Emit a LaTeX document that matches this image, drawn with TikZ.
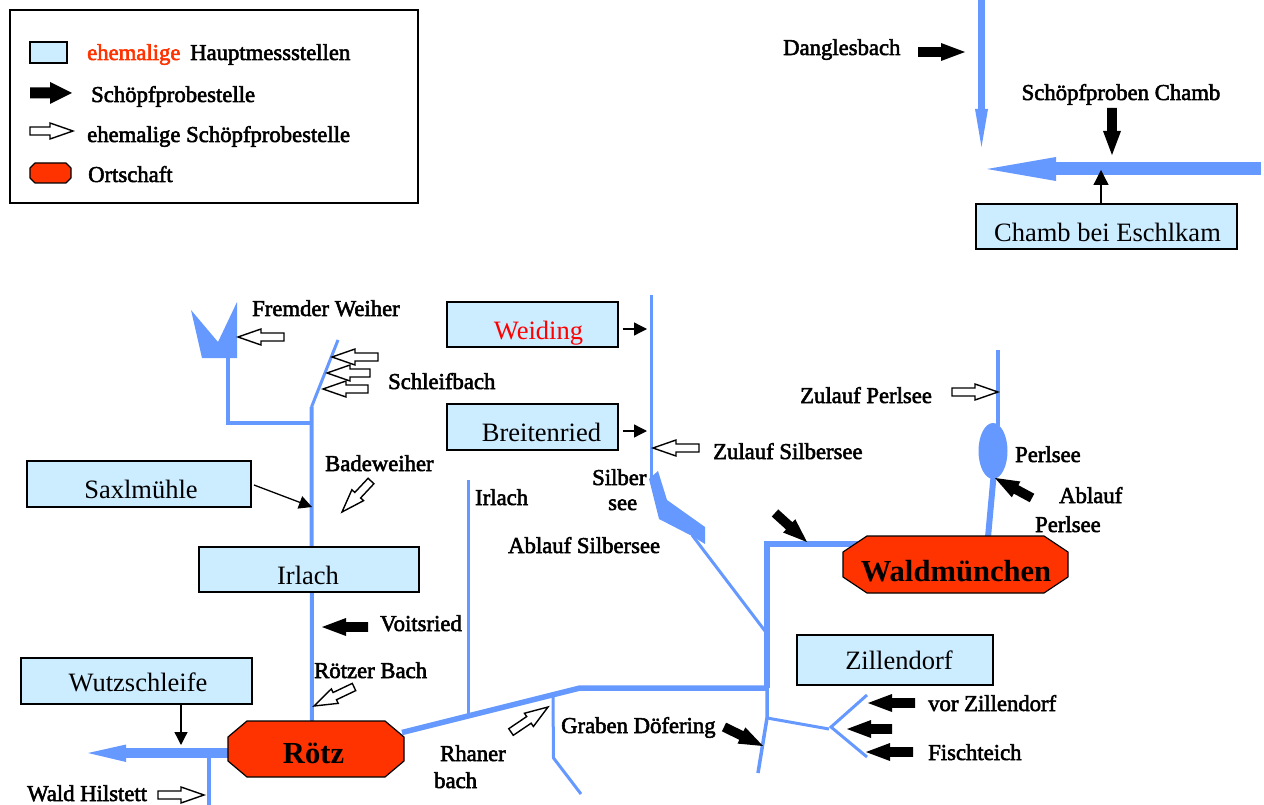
\documentclass[tikz,border=0pt]{standalone}
\usepackage{fontspec}
\setmainfont{Liberation Serif}
\usetikzlibrary{calc,arrows.meta}
\definecolor{river}{HTML}{6699FF}
\definecolor{boxblue}{HTML}{CCECFF}
\definecolor{townred}{HTML}{FF3300}
\tikzset{
  stream/.style={draw=river,line width=#1,line join=miter},
  stream/.default=3.5,
  lake/.style={fill=river,draw=none},
  lbl/.style={anchor=base west,inner sep=0pt,font=\fontsize{22.7}{24}\selectfont,
    execute at begin node={\special{pdf:code 2 Tr 0.55 w}},
    execute at end node={\special{pdf:code 0 Tr}}},
  gauge/.style={draw=black,line width=1.1pt,fill=boxblue,inner sep=0pt,font=\fontsize{26.5}{28}\selectfont},
  townfill/.style={draw=black,line width=1.2pt,fill=townred,line join=round},
  townname/.style={anchor=base,inner sep=0pt,font=\bfseries\fontsize{30.6}{32}\selectfont},
  solidarrow/.style={fill=black,draw=none},
  oldarrow/.style={fill=white,draw=black,line width=1.4pt,line join=miter},
  thinarrow/.style={draw=black,line width=1.3pt,-{Triangle[length=#1,width=#1]}},
  thinarrow/.default=13pt,
}
% block arrow from named tail to named tip: style, name, tail, tip, shaft/2, head/2, head length
\newcommand\blockarrow[7]{%
  \coordinate (#2t) at (#3);
  \coordinate (#2p) at (#4);
  \coordinate (#2b) at ($(#2p)!#7pt!(#2t)$);
  \path[#1] ($(#2t)!#5pt!90:(#2p)$) -- ($(#2b)!#5pt!90:(#2p)$) -- ($(#2b)!#6pt!90:(#2p)$)
    -- (#2p) -- ($(#2b)!#6pt!-90:(#2p)$) -- ($(#2b)!#5pt!-90:(#2p)$) -- ($(#2t)!#5pt!-90:(#2p)$) -- cycle;
}
\newcommand\blackarrow[3]{\blockarrow{solidarrow}{#1}{#2}{#3}{4.8}{9}{24}}
\newcommand\whitearrow[3]{\blockarrow{oldarrow}{#1}{#2}{#3}{4}{8}{23}}
\newcommand\boxtext[3]{\smash{\makebox[0pt]{\hspace{#1pt}\raisebox{-#2pt}{#3}}}}
% octagon: x1 y1 x2 y2 dx dy
\newcommand\townshape[6]{\path[townfill] (#1+#5,#2) -- (#3-#5,#2) -- (#3,#2+#6) -- (#3,#4-#6) -- (#3-#5,#4) -- (#1+#5,#4) -- (#1,#4-#6) -- (#1,#2+#6) -- cycle;}
\begin{document}
\begin{tikzpicture}[x=1pt,y=-1pt]
\useasboundingbox (0,0) rectangle (1264,805);
% legend
\node[draw=black,line width=1.2pt,fill=white,minimum width=408pt,minimum height=193pt,inner sep=0pt] (legend) at (214,106.5) {};
\node[gauge,minimum width=37pt,minimum height=21pt] (lgbox) at (48.5,52.5) {};
\blockarrow{solidarrow}{lgblack}{30,93}{72,93}{5.5}{11}{22}
\whitearrow{lgwhite}{30,131}{73,131}
\townshape{30}{163}{71}{183}{5}{5}
\node[lbl,text=townred] (l1) at (87,60) {ehemalige};
\node[lbl] (l1b) at (190,60) {Hauptmessstellen};
\node[lbl] (l2) at (91,102) {Schöpfprobestelle};
\node[lbl] (l3) at (87,142) {ehemalige Schöpfprobestelle};
\node[lbl] (l4) at (88,182) {Ortschaft};
% Chamb
\coordinate (dtop) at (981.5,0);
\coordinate (dhead) at (981.5,109);
\coordinate (dtip) at (981.5,147);
\draw[stream=7] (dtop) -- (dhead);
\path[lake] (975,109) -- (988,109) -- (dtip) -- cycle;
\coordinate (cr) at (1261,169);
\coordinate (chead) at (1056,169);
\coordinate (ctip) at (987,169);
\draw[stream=13] (cr) -- (chead);
\path[lake] (1056,157) -- (1056,181) -- (ctip) -- cycle;
\blackarrow{adangl}{918,52}{965,52}
\blackarrow{achamb}{1112,108}{1112,155}
\node[gauge,minimum width=261pt,minimum height=45pt] (chamb) at (1106.5,226.5) {\boxtext{2}{15}{Chamb bei Eschlkam}};
\coordinate (chtip) at (1101,170);
\draw[thinarrow=15pt] (chamb.north -| chtip) -- (chtip);
% Fremder Weiher / Roetzer Bach
\path[lake] (191,310) -- (218,342) -- (237,302) -- (237,358) -- (202,358) -- cycle;
\coordinate (fw) at (228,358);
\coordinate (fwc) at (228,423);
\coordinate (fwj) at (312,423);
\draw[stream=4] (fw) -- (fwc) -- (fwj);
\coordinate (sltop) at (338,340);
\coordinate (slj) at (311.5,407);
\draw[stream=3] (sltop) -- (slj);
\coordinate (rz) at (312,722);
\draw[stream=4] (slj) -- (rz);
% Irlach tributary
\coordinate (irt) at (468.5,480);
\coordinate (irb) at (468.5,714);
\draw[stream=3.5] (irt) -- (irb);
% main river
\coordinate (m1) at (402,732.5);
\coordinate (m2) at (580,688);
\coordinate (m3) at (767,688);
\coordinate (m4) at (767,544);
\coordinate (m5) at (862,544);
\draw[stream=5.5] (m1) -- (m2) -- (m3);
\draw[stream=6] (m3) -- (m4) -- (m5);
% Silbersee
\coordinate (st) at (651.5,295);
\coordinate (sb) at (651.5,480);
\draw[stream=3.5] (st) -- (sb);
\path[lake] (649,479) -- (658,471) -- (667,500) -- (705,527) -- (705,544) -- (692,536) -- (659,519) -- cycle;
\coordinate (so) at (692,535);
\coordinate (sj) at (765,631);
\draw[stream=3] (so) -- (sj);
% Perlsee
\coordinate (pt) at (998,350);
\coordinate (pm) at (998,426);
\draw[stream=4] (pt) -- (pm);
\path[lake] (993,451) ellipse [x radius=14.5,y radius=28];
\coordinate (po) at (993.5,477);
\coordinate (pw) at (988,537);
\draw[stream=6] (po) -- (pw);
% below main river
\coordinate (zu) at (767,688);
\coordinate (zj) at (767,718);
\coordinate (ze) at (758,773);
\draw[stream=3.5] (zu) -- (zj) -- (ze);
\coordinate (zf) at (829,729);
\draw[stream=3] (zj) -- (zf);
\coordinate (zv) at (831,727);
\coordinate (za) at (867,695);
\coordinate (zb) at (867,757);
\draw[stream=3] (za) -- (zv) -- (zb);
% Rhaner bach
\coordinate (r1) at (553,697);
\coordinate (r2) at (553.5,758);
\coordinate (r3) at (581,794);
\draw[stream=3] (r1) -- (r2) -- (r3);
% west outflow
\coordinate (w1) at (235,753);
\coordinate (w2) at (126,753);
\coordinate (w3) at (88,753);
\draw[stream=9.5] (w1) -- (w2);
\path[lake] (126,744.5) -- (126,762) -- (w3) -- cycle;
\coordinate (hu) at (209,753);
\coordinate (hb) at (209,805);
\draw[stream=4] (hu) -- (hb);
% gauges
\node[gauge,minimum width=171pt,minimum height=45pt] (weid) at (532.5,324.5) {\boxtext{12}{14.5}{\textcolor{red}{Weiding}}};
\node[gauge,minimum width=171pt,minimum height=46pt] (breit) at (532.5,427) {\boxtext{18}{14}{Breitenried}};
\node[gauge,minimum width=224pt,minimum height=46pt] (saxl) at (139,484) {\boxtext{4}{14}{Saxlmühle}};
\node[gauge,minimum width=220pt,minimum height=45pt] (irl) at (309,569.5) {\boxtext{-2}{14.5}{Irlach}};
\node[gauge,minimum width=231pt,minimum height=46pt] (wutz) at (136.5,681) {\boxtext{3}{10}{Wutzschleife}};
\node[gauge,minimum width=196pt,minimum height=50pt] (zill) at (895,660) {\boxtext{8}{9}{Zillendorf}};
% towns
\townshape{843}{536}{1068}{593}{24}{16}
\node[townname] (wald) at (956,581) {Waldmünchen};
\townshape{228}{721}{404}{777}{19}{16}
\node[townname] (roetz) at (313.5,763) {Rötz};
% arrows to gauges
\coordinate (wa) at (647,329);
\draw[thinarrow] (weid.east |- wa) ++(4,0) -- (wa);
\coordinate (ba) at (647,431);
\draw[thinarrow] (breit.east |- ba) ++(4,0) -- (ba);
\coordinate (sa) at (254,485);
\coordinate (sap) at (312,507);
\draw[thinarrow] (sa) -- (sap);
\coordinate (wua) at (181,745);
\draw[thinarrow] (wutz.south -| wua) -- (wua);
% block arrows
\whitearrow{afw}{284,337}{238,337}
\whitearrow{as1}{378,357}{332,357}
\whitearrow{as2}{370,373}{327,373}
\whitearrow{as3}{368,389}{323,389}
\whitearrow{abw}{371,481}{342,512}
\whitearrow{azs}{699,448}{653,448}
\whitearrow{azp}{952,392}{998,392}
\whitearrow{arb}{354,687}{314,706}
\whitearrow{arh}{511,732}{548,707}
\whitearrow{awh}{158,795}{204,795}
\blackarrow{aab}{1032,498}{995,478}
\blackarrow{awa}{775,513}{807,542}
\blackarrow{avo}{368,627}{322,627}
\blackarrow{agd}{724,727}{763,746}
\blackarrow{azv}{915,703}{868,703}
\blackarrow{azm}{892,729}{847,729}
\blackarrow{azf}{913,752}{866,752}
% labels
\node[lbl] (t1) at (783,55) {Danglesbach};
\node[lbl] (t2) at (1021.5,100) {Schöpfproben Chamb};
\node[lbl] (t3) at (252,316) {Fremder Weiher};
\node[lbl] (t4) at (388,389) {Schleifbach};
\node[lbl] (t5) at (325,471) {Badeweiher};
\node[lbl] (t6) at (475,505) {Irlach};
\node[lbl] (t7) at (713,459) {Zulauf Silbersee};
\node[lbl] (t8) at (592,485) {Silber};
\node[lbl] (t9) at (608,510) {see};
\node[lbl] (t10) at (508,553) {Ablauf Silbersee};
\node[lbl] (t11) at (800,403) {Zulauf Perlsee};
\node[lbl] (t12) at (1015,462) {Perlsee};
\node[lbl] (t13) at (1059,503) {Ablauf};
\node[lbl] (t14) at (1035,532) {Perlsee};
\node[lbl] (t15) at (380,631) {Voitsried};
\node[lbl] (t16) at (314,678) {Rötzer Bach};
\node[lbl] (t17) at (561,733) {Graben Döfering};
\node[lbl] (t18) at (440,761) {Rhaner};
\node[lbl] (t19) at (434,788) {bach};
\node[lbl] (t20) at (928,711) {vor Zillendorf};
\node[lbl] (t21) at (928,760) {Fischteich};
\node[lbl] (t22) at (27,801) {Wald Hilstett};
\end{tikzpicture}
\end{document}
